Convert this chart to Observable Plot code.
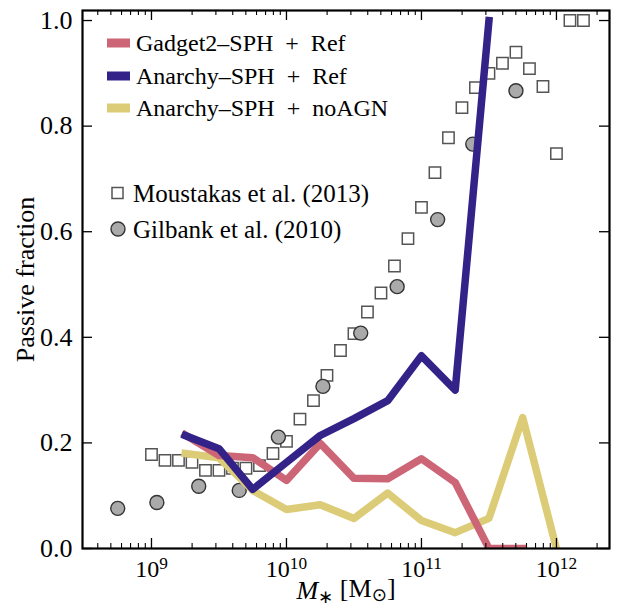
<!DOCTYPE html>
<html><head><meta charset="utf-8">
<script src="https://cdn.jsdelivr.net/npm/d3@7"></script>
<script src="https://cdn.jsdelivr.net/npm/@observablehq/plot@0.6"></script>
<style>body{margin:0;background:#fff} svg{display:block}</style>
</head><body><div id="chart"></div>
<script>
// ---- data (log10 stellar mass, passive fraction) ----
const simLogM = [9.25, 9.5, 9.75, 10.0, 10.25, 10.5, 10.75, 11.0, 11.25, 11.5, 11.75, 12.0];
const gadgetRef = [0.215, 0.176, 0.172, 0.129, 0.199, 0.133, 0.132, 0.170, 0.125, 0.0, 0.0];
const anarchyRef = [0.214, 0.189, 0.112, 0.163, 0.214, 0.246, 0.280, 0.365, 0.300, 1.0];
const anarchyNoAGN = [0.180, 0.172, 0.110, 0.074, 0.083, 0.057, 0.105, 0.053, 0.030, 0.057, 0.248, 0.0];

const moustakasLogM = [9.0, 9.1, 9.2, 9.3, 9.4, 9.5, 9.6, 9.7, 9.8, 9.9, 10.0, 10.1, 10.2, 10.3, 10.4, 10.5, 10.6, 10.7, 10.8, 10.9, 11.0, 11.1, 11.2, 11.3, 11.4, 11.5, 11.6, 11.7, 11.8, 11.9, 12.0, 12.1, 12.2];
const moustakasFrac = [0.178, 0.167, 0.167, 0.163, 0.148, 0.148, 0.152, 0.152, 0.157, 0.180, 0.203, 0.245, 0.280, 0.328, 0.375, 0.407, 0.448, 0.484, 0.535, 0.587, 0.646, 0.712, 0.778, 0.835, 0.873, 0.900, 0.919, 0.940, 0.909, 0.875, 0.748, 1.0, 1.0];

const gilbankLogM = [8.75, 9.04, 9.35, 9.65, 9.94, 10.27, 10.55, 10.82, 11.12, 11.38, 11.70];
const gilbankFrac = [0.076, 0.087, 0.118, 0.110, 0.211, 0.307, 0.408, 0.496, 0.623, 0.766, 0.867];

const xTickExps = [9, 10, 11, 12];
const yTicks = [0, 0.2, 0.4, 0.6, 0.8, 1.0];
const xDomainLog = [8.489, 12.393];
const yDomain = [0, 1.019];

const seriesNames = ["Gadget2–SPH\u00a0\u00a0+\u00a0\u00a0Ref", "Anarchy–SPH\u00a0\u00a0+\u00a0\u00a0Ref", "Anarchy–SPH\u00a0\u00a0+\u00a0\u00a0noAGN"];
const seriesColors = ["#cc6677", "#332288", "#ddcc77"];
const obsNames = ["Moustakas et al. (2013)", "Gilbank et al. (2010)"];
const yLabel = "Passive fraction";

// ---- tables ----
const toRows = vals => vals.map((v, i) => ({m: 10 ** simLogM[i], f: v}));
const moustakas = moustakasLogM.map((l, i) => ({m: 10 ** l, f: moustakasFrac[i]}));
const gilbank = gilbankLogM.map((l, i) => ({m: 10 ** l, f: gilbankFrac[i]}));
const xDomain = xDomainLog.map(l => 10 ** l);
const majorX = xTickExps.map(e => 10 ** e);
const minorX = [];
for (let e = 8; e <= 12; e++) for (let k = 2; k <= 9; k++) {
  const v = k * 10 ** e;
  if (v > xDomain[0] && v < xDomain[1]) minorX.push(v);
}

const W = 617, H = 608, mL = 82, mR = 8, mT = 10, mB = 60;
const fw = W - mL - mR, fh = H - mT - mB;
const majLen = 10, minLen = 5;
const serif = "'Liberation Serif', 'Times New Roman', serif";
const lineOpts = {x: "m", y: "f", strokeWidth: 7.5, strokeLinecap: "square", strokeLinejoin: "round", clip: true};

const chart = Plot.plot({
  width: W, height: H,
  marginLeft: mL, marginRight: mR, marginTop: mT, marginBottom: mB,
  style: {fontFamily: serif, background: "white", color: "black", overflow: "visible"},
  x: {type: "log", domain: xDomain, axis: null},
  y: {domain: yDomain, axis: null},
  marks: [
    Plot.dot(moustakas, {x: "m", y: "f", symbol: "square", r: 6.4, fill: "white", stroke: "#555", strokeWidth: 1.5}),
    Plot.dot(gilbank, {x: "m", y: "f", r: 7, fill: "#aaaaaa", stroke: "#333", strokeWidth: 1.4}),
    Plot.line(toRows(anarchyNoAGN), {...lineOpts, stroke: seriesColors[2]}),
    Plot.line(toRows(gadgetRef), {...lineOpts, stroke: seriesColors[0]}),
    Plot.line(toRows(anarchyRef), {...lineOpts, stroke: seriesColors[1]}),
    // inward ticks, bottom / top
    Plot.tickX(majorX, {x: d => d, insetTop: fh - majLen, strokeWidth: 1.3}),
    Plot.tickX(majorX, {x: d => d, insetBottom: fh - majLen, strokeWidth: 1.3}),
    Plot.tickX(minorX, {x: d => d, insetTop: fh - minLen, strokeWidth: 1.1}),
    Plot.tickX(minorX, {x: d => d, insetBottom: fh - minLen, strokeWidth: 1.1}),
    // inward ticks, left / right
    Plot.tickY(yTicks, {y: d => d, insetRight: fw - majLen, strokeWidth: 1.3}),
    Plot.tickY(yTicks, {y: d => d, insetLeft: fw - majLen, strokeWidth: 1.3}),
    Plot.frame({stroke: "black", strokeWidth: 2.2}),
    Plot.text(yTicks, {y: d => d, frameAnchor: "left", dx: -10, textAnchor: "end", lineAnchor: "middle", text: d => d3.format(".1f")(d), fontSize: 26}),
    Plot.text(majorX, {x: d => d, frameAnchor: "bottom", dy: 11, lineAnchor: "top", text: d => "10^" + Math.round(Math.log10(d)), fontSize: 24}),
    Plot.text(["@xlabel"], {frameAnchor: "bottom", dy: 32, lineAnchor: "top", text: d => d, fontSize: 26}),
    Plot.text([yLabel], {frameAnchor: "left", dx: -57, rotate: -90, lineAnchor: "middle", textAnchor: "middle", text: d => d, fontSize: 26})
  ]
});

const svg = d3.select(chart);
svg.selectAll("text").each(function() {
  const t = d3.select(this);
  const s = t.text();
  if (s.includes("^")) {
    // superscript exponents on the x tick labels
    const [base, exp] = s.split("^");
    t.text(null);
    t.append("tspan").text(base);
    t.append("tspan").attr("dy", "-0.42em").attr("font-size", "0.72em").text(exp);
  } else if (s === "@xlabel") {
    // x axis label  M_* [M_sun]
    t.text(null);
    t.append("tspan").attr("font-style", "italic").text("M");
    t.append("tspan").attr("dy", "0.2em").attr("font-size", "0.7em").attr("font-family", "DejaVu Sans").text("∗");
    t.append("tspan").attr("dy", "-0.2em").text("\u00a0[M");
    t.append("tspan").attr("dy", "0.2em").attr("font-size", "0.7em").attr("font-family", "DejaVu Sans").text("⊙");
    t.append("tspan").attr("dy", "-0.2em").text("]");
  }
});

// legend inside the frame (top-left)
const lg = svg.append("g").attr("font-family", serif).attr("font-size", 25).attr("text-anchor", "start");
const rowY = [43, 76, 108];
seriesNames.forEach((name, i) => {
  lg.append("rect").attr("x", mL + 25).attr("y", rowY[i] - 4.5).attr("width", 23).attr("height", 9).attr("fill", seriesColors[i]);
  lg.append("text").attr("x", mL + 54).attr("y", rowY[i] + 7.5).attr("font-size", 24).text(name);
});
const obsY = [193, 229];
lg.append("rect").attr("x", mL + 30).attr("y", obsY[0] - 5.5).attr("width", 11).attr("height", 11)
  .attr("fill", "white").attr("stroke", "#555").attr("stroke-width", 1.5);
lg.append("circle").attr("cx", mL + 36).attr("cy", obsY[1]).attr("r", 7)
  .attr("fill", "#aaaaaa").attr("stroke", "#333").attr("stroke-width", 1.4);
obsNames.forEach((name, i) => {
  lg.append("text").attr("x", mL + 51).attr("y", obsY[i] + 8.5).text(name);
});

document.getElementById("chart").append(chart);
</script>
</body></html>
